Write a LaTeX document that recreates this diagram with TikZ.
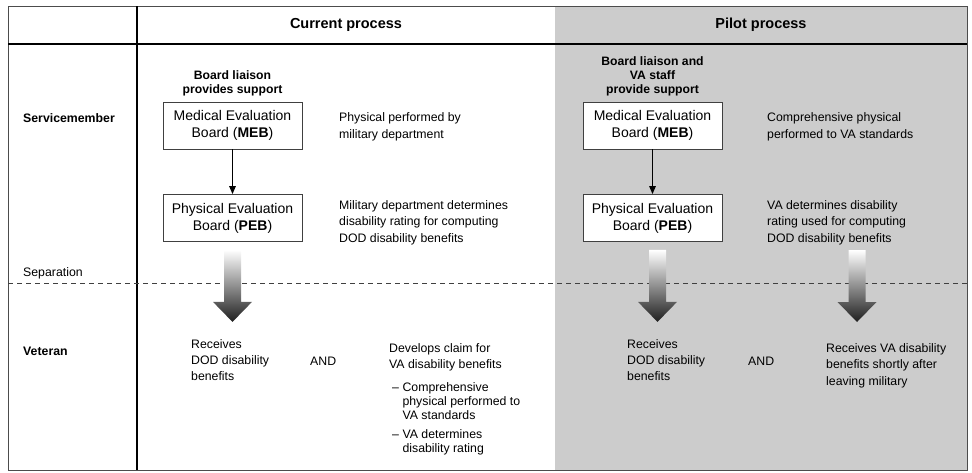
\documentclass[tikz,border=0pt]{standalone}
\usepackage{fontspec}
\setmainfont{Liberation Sans}
\usetikzlibrary{positioning,arrows.meta}

\tikzset{
  board/.style={draw=black!75, line width=0.8pt, fill=white, minimum width=139pt,
    minimum height=47pt, inner sep=0pt, align=center, font=\fontsize{14}{17}\selectfont},
  txt/.style={anchor=west, inner sep=0pt, align=left, font=\fontsize{12.3}{16.4}\selectfont},
  support/.style={inner sep=0pt, align=center, font=\fontsize{12.2}{14.2}\selectfont\bfseries},
  head/.style={inner sep=0pt, font=\fontsize{14.5}{16}\selectfont\bfseries},
  bigshade/.style={top color=white, bottom color=black!88},
}
% fat shaded arrow hanging below a point
\newcommand\fatarrow[1]{\shade[bigshade, shift={#1}] (-8.5,8) -- (8.5,8) -- (8.5,60)
  -- (19.5,60) -- (0,80) -- (-19.5,60) -- (-8.5,60) -- cycle;}

\begin{document}
\begin{tikzpicture}[x=1pt,y=-1pt]
	\useasboundingbox (0,0) rectangle (972,472);
	% table
	\fill[black!20] (555,6) rectangle (967,470);
	\draw[black!70, line width=1pt] (8,6) rectangle (967,470);
	\draw[line width=1.3pt] (8,44)--(967,44);
	\draw[line width=1.3pt] (137,6)--(137,470);
	\draw[black!75, dash pattern=on 5pt off 4pt] (8,283)--(967,283);
	\node[head] (cur) at (346,25) {Current process};
	\node[head] (pil) at (761,25) {Pilot process};
	\node[txt, font=\fontsize{12.3}{16}\selectfont\bfseries] (svc) at (23,118) {Servicemember};
	\node[txt] (sep) at (23,273) {Separation};
	\node[txt, font=\fontsize{12.3}{16}\selectfont\bfseries] (vet) at (23,351) {Veteran};
	% current process
	\node[board] (meb1) at (232.5,125.5) {Medical Evaluation\\Board (\textbf{MEB})};
	\node[board] (peb1) at (232.5,218) {Physical Evaluation\\Board (\textbf{PEB})};
	\node[support, above=5pt of meb1] (liaison1) {Board liaison\\provides support};
	\draw[-{Triangle[length=8pt,width=6.5pt]}, line width=1.2pt] (meb1)--(peb1);
	\node[txt] (phys1) at (339,127) {Physical performed by\\military department};
	\node[txt] (rate1) at (339,222.5) {Military department determines\\disability rating for computing\\DOD disability benefits};
	\fatarrow{(peb1.south)}
	\node[txt] (dod1) at (191,360) {Receives\\DOD disability\\benefits};
	\node[txt] (and1) at (310,361) {AND};
	\node[txt] (claim) at (389,357.5) {Develops claim for\\VA disability benefits};
	\node[txt, anchor=north west, font=\fontsize{12.3}{14}\selectfont] (steps) at (392,381)
	  {\begin{tabular}{@{}l@{\hspace{3.5pt}}l@{}}
	   -- & Comprehensive\\
	      & physical performed to\\
	      & VA standards\\[5pt]
	   -- & VA determines\\
	      & disability rating
	   \end{tabular}};
	% pilot process
	\node[board] (meb2) at (652.5,125.5) {Medical Evaluation\\Board (\textbf{MEB})};
	\node[board] (peb2) at (652.5,218) {Physical Evaluation\\Board (\textbf{PEB})};
	\node[support, above=5pt of meb2] (liaison2) {Board liaison and\\VA staff\\provide support};
	\draw[-{Triangle[length=8pt,width=6.5pt]}, line width=1.2pt] (meb2)--(peb2);
	\node[txt] (phys2) at (767,127) {Comprehensive physical\\performed to VA standards};
	\node[txt] (rate2) at (767,222.5) {VA determines disability\\rating used for computing\\DOD disability benefits};
	\coordinate (vatop) at (857,242);
	\fatarrow{([xshift=5pt]peb2.south)}
	\fatarrow{(vatop)}
	\node[txt] (dod2) at (627,360) {Receives\\DOD disability\\benefits};
	\node[txt] (and2) at (748,361) {AND};
	\node[txt] (va2) at (826,365.5) {Receives VA disability\\benefits shortly after\\leaving military};
\end{tikzpicture}
\end{document}
